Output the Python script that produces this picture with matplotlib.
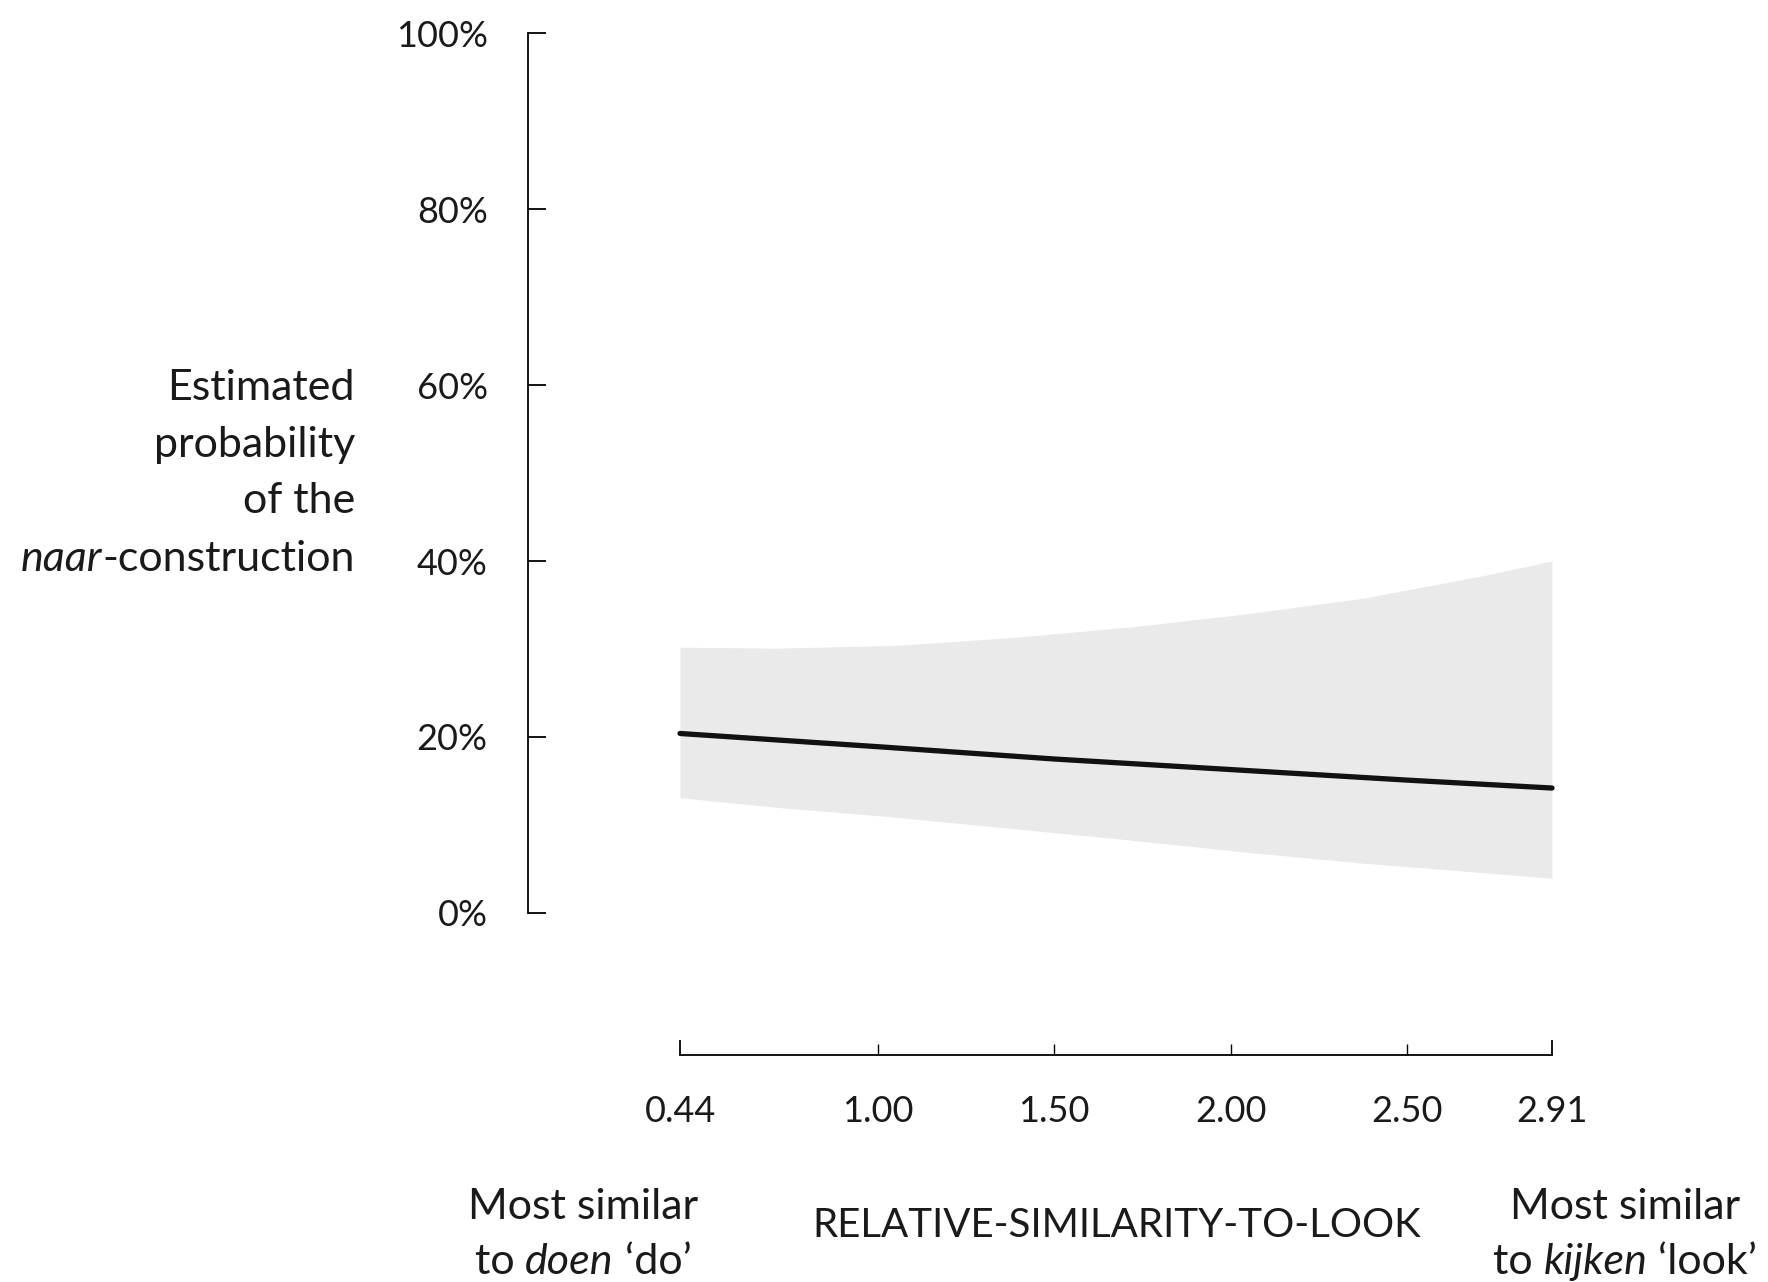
"""predicted probability of the naar-construction by relative similarity to look."""
import matplotlib
matplotlib.use("Agg")
import matplotlib.pyplot as plt
from matplotlib.ticker import FixedLocator, FuncFormatter

W, H = 1768, 1282
FONT = "Lato"
INK = "#1a1a1a"

# fitted curve (percent)
x_line = [0.44, 1.00, 1.50, 2.00, 2.50, 2.91]
p_line = [20.4, 18.9, 17.5, 16.3, 15.1, 14.2]

# confidence band (percent)
x_band = [0.44, 0.715, 1.048, 1.38, 1.713, 2.046, 2.378, 2.711, 2.91]
band_hi = [30.2, 30.1, 30.4, 31.3, 32.5, 34.0, 35.8, 38.3, 40.0]
band_lo = [13.1, 12.0, 10.9, 9.6, 8.3, 6.9, 5.65, 4.6, 3.94]

x_end_ticks = [0.44, 2.91]
x_mid_ticks = [1.00, 1.50, 2.00, 2.50]
y_ticks = [0, 20, 40, 60, 80, 100]

# pixel layout of the reference
spine_x, y0_px, y100_px = 528, 913, 33
x_lo_px, x_hi_px = 680, 1552
xaxis_px = 1055
right_px = 1560

fig = plt.figure(figsize=(W / 100, H / 100), dpi=100)
ax = fig.add_axes([spine_x / W, (H - y0_px) / H,
                   (right_px - spine_x) / W, (y0_px - y100_px) / H])

ppu = (x_hi_px - x_lo_px) / (x_end_ticks[1] - x_end_ticks[0])
ax.set_xlim(x_end_ticks[0] - (x_lo_px - spine_x) / ppu,
            x_end_ticks[1] + (right_px - x_hi_px) / ppu)
ax.set_ylim(0, 100)

ax.fill_between(x_band, band_lo, band_hi, color="#eaeaea", lw=0, zorder=1)
ax.plot(x_line, p_line, color="#111111", lw=3.8, solid_capstyle="round", zorder=2)

for s in ("top", "right"):
    ax.spines[s].set_visible(False)
ax.spines["left"].set_bounds(0, 100)
ax.spines["left"].set_linewidth(1.3)
ax.spines["bottom"].set_bounds(*x_end_ticks)
ax.spines["bottom"].set_linewidth(1.3)
ax.spines["bottom"].set_position(("outward", (xaxis_px - y0_px) * 0.72))

tick_font = dict(family=FONT, size=26, color=INK)
ax.set_yticks(y_ticks)
ax.set_yticklabels([f"{v}%" for v in y_ticks], **tick_font)
ax.tick_params(axis="y", direction="in", length=13, width=1.3, pad=29)

ax.xaxis.set_major_locator(FixedLocator(x_end_ticks))
ax.xaxis.set_minor_locator(FixedLocator(x_mid_ticks))
fmt = FuncFormatter(lambda v, _: f"{v:.2f}")
ax.xaxis.set_major_formatter(fmt)
ax.xaxis.set_minor_formatter(fmt)
ax.tick_params(axis="x", which="major", direction="in", length=11, width=1.3, pad=29)
ax.tick_params(axis="x", which="minor", direction="in", length=8, width=1.0, pad=29)
for lab in ax.get_xticklabels(which="both"):
    lab.set_fontfamily(FONT)
    lab.set_fontsize(26)
    lab.set_color(INK)

renderer = fig.canvas.get_renderer()


def rich_line(x_px, y_px, pieces, ha="center", size=31):
    """one line of text with mixed upright/italic pieces, y_px is the baseline."""
    texts = [fig.text(0, 0, s, family=FONT, style=st, size=size, color=INK,
                      ha="left", va="baseline") for s, st in pieces]
    widths = [t.get_window_extent(renderer).width for t in texts]
    total = sum(widths)
    start = {"left": x_px, "center": x_px - total / 2, "right": x_px - total}[ha]
    for t, w in zip(texts, widths):
        t.set_position((start / W, 1 - y_px / H))
        start += w


N, I = "normal", "italic"
rich_line(355, 400, [("Estimated", N)], ha="right")
rich_line(355, 457, [("probability", N)], ha="right")
rich_line(355, 513, [("of the", N)], ha="right")
rich_line(355, 571, [("naar", I), ("-construction", N)], ha="right")

rich_line(583, 1219, [("Most similar", N)])
rich_line(583, 1274, [("to ", N), ("doen", I), (" \u2018do\u2019", N)])
rich_line(1625, 1219, [("Most similar", N)])
rich_line(1625, 1274, [("to ", N), ("kijken", I), (" \u2018look\u2019", N)])
rich_line(1117, 1237, [("RELATIVE-SIMILARITY-TO-LOOK", N)], size=29)

fig.savefig("out.png", dpi=100)
